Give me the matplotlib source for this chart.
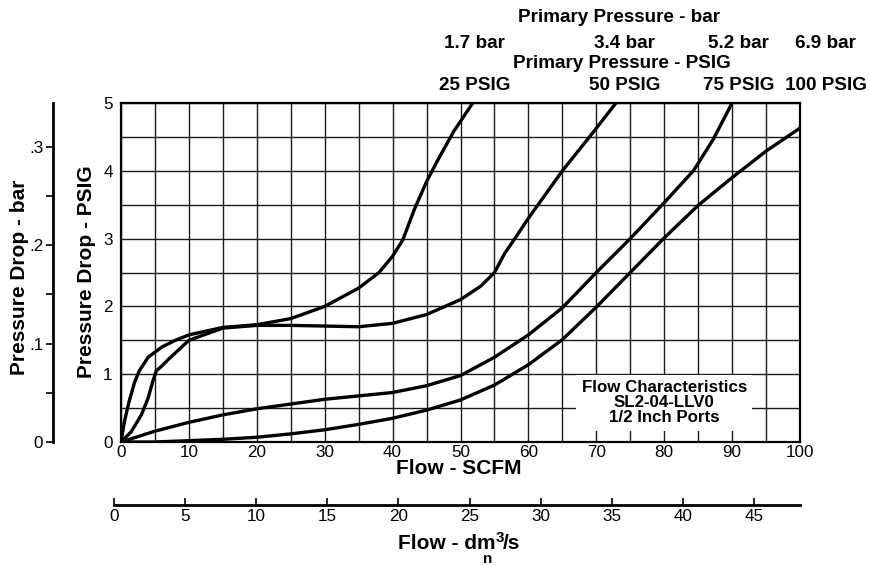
import numpy as np
import matplotlib
matplotlib.use("Agg")
import matplotlib.pyplot as plt
from matplotlib.transforms import blended_transform_factory

plt.rcParams['font.family'] = ['Liberation Sans', 'DejaVu Sans']

# flow (SCFM) / pressure drop (PSIG), one curve per primary pressure
flow_25 = [0, 0.5, 1.2, 2, 2.7, 4, 6, 8, 10, 15, 20, 25, 30, 35, 38, 40, 41.5, 43.2, 45, 46.5, 49, 51.8]
drop_25 = [0, 0.3, 0.6, 0.88, 1.05, 1.25, 1.4, 1.5, 1.58, 1.69, 1.73, 1.82, 2.0, 2.27, 2.5, 2.74, 2.98, 3.43, 3.84, 4.13, 4.58, 5.0]

flow_50 = [0, 1.5, 3, 4, 4.7, 5.2, 6, 7, 10, 15, 20, 25, 30, 35, 40, 45, 50, 53, 55, 56.5, 58, 60, 65, 69, 72.9]
drop_50 = [0, 0.15, 0.4, 0.65, 0.9, 1.05, 1.12, 1.22, 1.5, 1.68, 1.72, 1.72, 1.71, 1.70, 1.75, 1.88, 2.10, 2.3, 2.5, 2.78, 3.0, 3.3, 4.0, 4.5, 5.0]

flow_75 = [0, 5, 10, 15, 20, 25, 30, 35, 40, 45, 50, 55, 60, 65, 70, 75, 80, 84.3, 87.2, 90]
drop_75 = [0, 0.16, 0.29, 0.4, 0.49, 0.56, 0.63, 0.68, 0.73, 0.83, 0.98, 1.25, 1.58, 1.98, 2.5, 3.0, 3.53, 4.0, 4.46, 5.0]

flow_100 = [0, 5, 10, 15, 20, 25, 30, 35, 40, 45, 50, 55, 60, 65, 70, 75, 80, 85, 90, 95, 100]
drop_100 = [0, 0.0, 0.02, 0.04, 0.07, 0.12, 0.18, 0.26, 0.35, 0.47, 0.62, 0.84, 1.14, 1.51, 1.99, 2.5, 3.01, 3.49, 3.9, 4.29, 4.63]

curves = [(flow_25, drop_25), (flow_50, drop_50), (flow_75, drop_75), (flow_100, drop_100)]

# top labels: where each curve leaves the chart (SCFM)
label_flow = [52.1, 74.2, 90.9, 103.8]
bar_labels = ['1.7 bar', '3.4 bar', '5.2 bar', '6.9 bar']
psig_labels = ['25 PSIG', '50 PSIG', '75 PSIG', '100 PSIG']

x_ticks = list(range(0, 101, 10))
y_ticks = [0, 1, 2, 3, 4, 5]
bar_ticks = [0, 0.1, 0.2, 0.3]
bar_tick_labels = ['0', '.1', '.2', '.3']
dm_ticks = list(range(0, 46, 5))

PSI_PER_BAR = 14.5038
SCFM_MAX = 100
DM_MAX = 48.24

TICK_FS = 12.3
BOLD_FS = 13.6
TITLE_FS = 15

W, H = 869, 566
fig = plt.figure(figsize=(W / 100, H / 100), dpi=100)

# main chart
ax = fig.add_axes([121 / W, 124 / H, 679 / W, 339 / H])
ax.set_xlim(0, SCFM_MAX)
ax.set_ylim(0, 5)
ax.set_xticks(x_ticks)
ax.set_xticks(np.arange(5, 100, 10), minor=True)
ax.set_yticks(y_ticks)
ax.set_yticks(np.arange(0.5, 5, 1), minor=True)
ax.grid(which='both', color='#1a1a1a', lw=1.0)
ax.set_axisbelow(True)
ax.tick_params(which='both', length=0, labelsize=TICK_FS)
ax.tick_params(axis='x', pad=2)
ax.tick_params(axis='y', pad=6)
for s in ax.spines.values():
    s.set_linewidth(1.6)

for fx, dy in curves:
    ax.plot(fx, dy, color='black', lw=2.4, solid_joinstyle='round', solid_capstyle='round', zorder=4)

ax.text(80, 0.58, 'Flow Characteristics\nSL2-04-LLV0\n1/2 Inch Ports', ha='center', va='center',
        fontsize=12.2, fontweight='bold', linespacing=1.0, zorder=3,
        bbox=dict(facecolor='white', edgecolor='none', pad=4))

# top labels
tr = blended_transform_factory(ax.transData, fig.transFigure)
for xv, b, p in zip(label_flow, bar_labels, psig_labels):
    ax.text(xv, 1 - 44 / H, b, transform=tr, ha='center', va='center', fontsize=BOLD_FS, fontweight='bold')
    ax.text(xv, 1 - 86 / H, p, transform=tr, ha='center', va='center', fontsize=BOLD_FS, fontweight='bold')
fig.text(619 / W, 1 - 17 / H, 'Primary Pressure - bar', ha='center', va='center', fontsize=BOLD_FS, fontweight='bold')
fig.text(622 / W, 1 - 63 / H, 'Primary Pressure - PSIG', ha='center', va='center', fontsize=BOLD_FS, fontweight='bold')

# axis titles
fig.text(459 / W, 1 - 469 / H, 'Flow - SCFM', ha='center', va='center', fontsize=TITLE_FS, fontweight='bold')
fig.text(86 / W, 1 - 272 / H, 'Pressure Drop - PSIG', ha='center', va='center', rotation=90,
         fontsize=TITLE_FS, fontweight='bold')
fig.text(20 / W, 1 - 277 / H, 'Pressure Drop - bar', ha='center', va='center', rotation=90,
         fontsize=TITLE_FS, fontweight='bold')
# Flow - dm3n/s, with the 3 and the n stacked after the m
fig.text(495 / W, 1 - 549 / H, 'Flow - dm', ha='right', va='baseline', fontsize=TITLE_FS, fontweight='bold')
fig.text(496 / W, 1 - 542 / H, '3', ha='left', va='baseline', fontsize=11, fontweight='bold')
fig.text(503 / W, 1 - 549 / H, '/s', ha='left', va='baseline', fontsize=TITLE_FS, fontweight='bold')
fig.text(488 / W, 1 - 563 / H, 'n', ha='center', va='baseline', fontsize=11, fontweight='bold')

# bar scale on the far left
axb = fig.add_axes([53 / W, 124 / H, 0.001, 339 / H])
axb.set_ylim(0, 5 / PSI_PER_BAR)
axb.set_xticks([])
axb.set_yticks(bar_ticks)
axb.set_yticklabels(bar_tick_labels)
axb.set_yticks([0.05, 0.15, 0.25], minor=True)
axb.tick_params(which='both', length=5, width=1.2, labelsize=TICK_FS, pad=2)
for k in ['top', 'right', 'bottom']:
    axb.spines[k].set_visible(False)
axb.spines['left'].set_linewidth(2)
axb.patch.set_visible(False)

# dm3/s scale below
axd = fig.add_axes([114 / W, (H - 505) / H, 686 / W, 0.001])
axd.set_xlim(0, DM_MAX)
axd.set_yticks([])
axd.set_xticks(dm_ticks)
axd.tick_params(axis='x', direction='in', length=5, width=1.2, labelsize=TICK_FS, pad=3)
for k in ['top', 'right', 'left']:
    axd.spines[k].set_visible(False)
axd.spines['bottom'].set_linewidth(2)
axd.patch.set_visible(False)

fig.savefig('out.png', dpi=100)
